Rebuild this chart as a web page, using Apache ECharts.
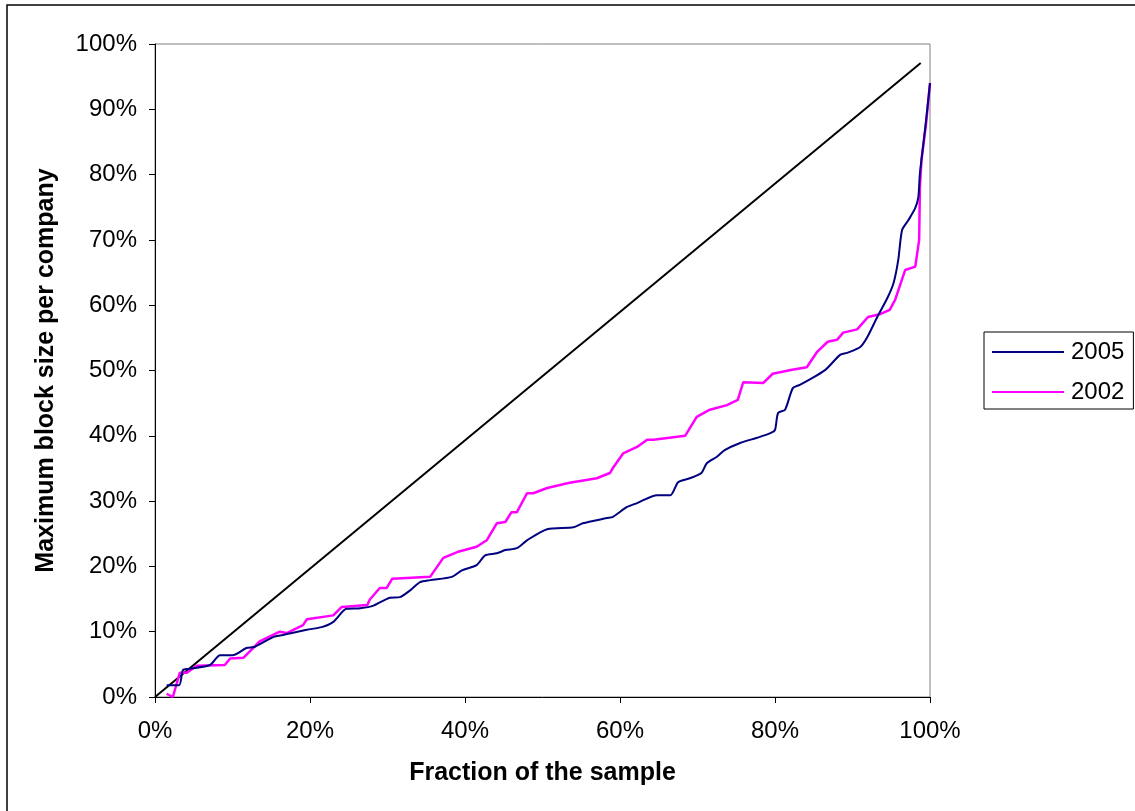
<!DOCTYPE html>
<html>
<head>
<meta charset="utf-8">
<script src="https://cdn.jsdelivr.net/npm/echarts@6/dist/echarts.min.js"></script>
<style>
html,body{margin:0;padding:0;background:#fff;overflow:hidden;}
#chart{width:1135px;height:811px;}
</style>
</head>
<body>
<div id="chart"></div>
<script>
var xTicks = [0, 20, 40, 60, 80, 100];
var yTicks = [0, 10, 20, 30, 40, 50, 60, 70, 80, 90, 100];
var seriesNames = ['2005', '2002'];

var x2005 = [1.5,3.1,3.6,4.3,7.1,8.4,10,11.8,12.9,15.3,16.5,19.6,21.5,23,24.7,26.5,28.2,30.3,31.6,33,34.2,35.5,38.3,39.6,41.5,42.6,44.1,45.2,46.7,48,50.6,54,55.2,58.3,59.1,60.9,62.2,64.8,66.5,67.5,69,70.5,71.2,72.5,73.5,75.5,77.7,79.4,80,80.4,81.3,82.3,83.2,84.9,86.5,87.1,88.4,89.3,91,91.9,93.2,94.5,95.3,95.9,96.4,97.2,98.1,98.5,98.7,99.4,100];
var y2005 = [1.8,1.8,4.1,4.3,4.9,6.4,6.4,7.5,7.7,9.2,9.5,10.3,10.7,11.5,13.5,13.6,14,15.2,15.3,16.4,17.6,17.9,18.4,19.4,20.2,21.7,22,22.5,22.8,24,25.7,26,26.6,27.4,27.6,29.1,29.7,30.9,30.9,32.9,33.5,34.3,35.8,36.8,37.8,38.9,39.7,40.4,40.9,43.5,44,47.3,47.8,48.9,50.1,50.8,52.4,52.7,53.6,55.1,58.2,61.1,63.4,66.9,71.5,73,74.9,76.6,80.2,87.3,94];

var x2002 = [1.5,2.3,3.2,4.1,5.4,9,9.7,11.4,13.5,16.1,17,19.1,19.6,23,24.1,27.4,27.7,29,29.9,30.6,35.5,37.2,39,41.5,42.8,44.1,45.2,46,46.7,48,48.8,50.6,53.5,57,58.7,59.1,60.4,62.2,63.5,64.3,68.4,69.9,71.6,73.8,75.2,75.9,78.5,79.7,82.2,84.1,85.4,86.8,88,88.8,90.6,92,93.5,94.8,95.5,96.8,98.1,98.6,98.7,98.9,99.5,100];
var y2002 = [0.5,0,3.7,3.7,4.8,4.9,5.9,6,8.5,10,9.8,11,11.9,12.5,13.8,14.1,14.9,16.7,16.7,18.1,18.4,21.3,22.2,23,24,26.6,26.8,28.3,28.3,31.2,31.2,32,32.8,33.5,34.3,35.1,37.3,38.3,39.4,39.4,40,42.9,44,44.7,45.5,48.2,48.1,49.5,50.1,50.5,52.8,54.4,54.7,55.8,56.3,58.2,58.6,59.3,60.8,65.4,65.9,70,78.1,82.2,87.9,94];

var xDiag = [0, 98.8];
var yDiag = [0, 97.1];

function pairs(xs, ys) { return xs.map(function (v, i) { return [v, ys[i]]; }); }

var font = 'Liberation Sans, Arial, sans-serif';
var chart = echarts.init(document.getElementById('chart'));
chart.setOption({
  animation: false,
  backgroundColor: '#fff',
  graphic: [{
    type: 'rect', silent: true,
    shape: { x: 7, y: 5, width: 1200, height: 900 },
    style: { fill: 'none', stroke: '#000', lineWidth: 1.5 }
  }],
  grid: {
    left: 155, top: 44, right: 205, bottom: 114,
    show: true, borderColor: '#808080', borderWidth: 1, backgroundColor: 'transparent'
  },
  legend: {
    orient: 'vertical', left: 984, top: 332,
    padding: [8, 9, 5, 8],
    borderColor: '#000', borderWidth: 1,
    icon: 'rect',
    itemWidth: 72, itemHeight: 2, itemGap: 16,
    data: [seriesNames[0], seriesNames[1]],
    textStyle: { fontFamily: font, fontSize: 24, color: '#000', padding: [0, 0, 0, 2] }
  },
  xAxis: {
    type: 'value', min: xTicks[0], max: xTicks[xTicks.length - 1], interval: 20,
    name: 'Fraction of the sample', nameLocation: 'middle', nameGap: 64,
    nameTextStyle: { fontFamily: font, fontSize: 25, fontWeight: 'bold', color: '#000' },
    axisLine: { show: true, lineStyle: { color: '#000', width: 1 } },
    axisTick: { show: true, inside: false, length: 6, lineStyle: { color: '#000' } },
    axisLabel: { formatter: '{value}%', margin: 22, fontFamily: font, fontSize: 24, color: '#000' },
    splitLine: { show: false }
  },
  yAxis: {
    type: 'value', min: yTicks[0], max: yTicks[yTicks.length - 1], interval: 10,
    name: 'Maximum block size per company', nameLocation: 'middle', nameGap: 96, nameRotate: 90,
    nameTextStyle: { fontFamily: font, fontSize: 25, fontWeight: 'bold', color: '#000' },
    axisLine: { show: true, lineStyle: { color: '#000', width: 1 } },
    axisTick: { show: true, inside: false, length: 6, lineStyle: { color: '#000' } },
    axisLabel: { formatter: '{value}%', margin: 18, fontFamily: font, fontSize: 24, color: '#000' },
    splitLine: { show: false }
  },
  series: [
    {
      name: 'diag', type: 'line', data: pairs(xDiag, yDiag), symbol: 'none', silent: true,
      lineStyle: { color: '#000', width: 2 }, z: 1
    },
    {
      name: seriesNames[0], type: 'line', data: pairs(x2005, y2005), symbol: 'none', smooth: 0.25,
      lineStyle: { color: '#000080', width: 2 }, itemStyle: { color: '#000080' }, z: 3
    },
    {
      name: seriesNames[1], type: 'line', data: pairs(x2002, y2002), symbol: 'none',
      lineStyle: { color: '#FF00FF', width: 2.5 }, itemStyle: { color: '#FF00FF' }, z: 2
    }
  ]
});
</script>
</body>
</html>
